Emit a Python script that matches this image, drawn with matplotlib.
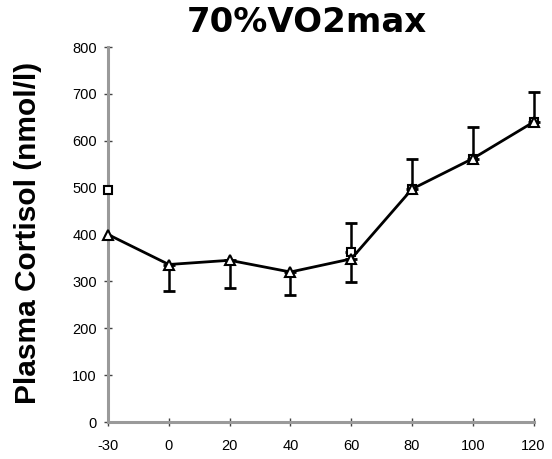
import matplotlib.pyplot as plt

# Time points (min) and plasma cortisol (nmol/l)
time_labels = ['-30', '0', '20', '40', '60', '80', '100', '120']
cortisol = [400, 336, 345, 320, 348, 497, 562, 640]

# Error bars (only drawn one way per point)
low_pos = [1, 2, 3, 4]
low_vals = [336, 345, 320, 348]
low_err = [57, 60, 48, 50]
high_pos = [4, 5, 6, 7]
high_vals = [362, 497, 562, 640]
high_err = [63, 65, 67, 63]

# Second (square) series, mostly hidden beneath the triangles
square_pos = [0, 4, 5, 6, 7]
square_vals = [495, 362, 497, 562, 640]

x = list(range(len(time_labels)))

fig = plt.figure(figsize=(5.52, 4.59), dpi=100)
ax = fig.add_axes([0.1957, 0.0806, 0.771, 0.817])

eb = dict(fmt='none', ecolor='black', elinewidth=1.8, capsize=4, capthick=2)
for errs in [ax.errorbar(low_pos, low_vals, yerr=[low_err, [0] * 4], **eb),
             ax.errorbar(high_pos, high_vals, yerr=[[0] * 4, high_err], **eb)]:
    for art in errs.lines[1] + errs.lines[2]:
        art.set_clip_on(False)
ax.plot(square_pos, square_vals, 's', mfc='white', mec='black', ms=6, mew=1.5,
        zorder=3, clip_on=False)
ax.plot(x, cortisol, '-^', color='black', mfc='white', mec='black', ms=7,
        mew=1.5, lw=2, zorder=4, clip_on=False)

ax.set_xlim(0, 7)
ax.set_ylim(0, 800)
ax.set_xticks(x)
ax.set_xticklabels(time_labels)
ax.set_yticks(range(0, 801, 100))
for s in ['top', 'right']:
    ax.spines[s].set_visible(False)
for s in ['left', 'bottom']:
    ax.spines[s].set_color('#9a9a9a')
    ax.spines[s].set_linewidth(2.2)
ax.tick_params(direction='inout', length=6, width=1, color='#444444',
               labelsize=10.5)
ax.tick_params(axis='x', pad=9)
ax.tick_params(axis='y', pad=5)
for lab in ax.get_xticklabels() + ax.get_yticklabels():
    lab.set_family('Liberation Sans')
ax.set_ylabel('Plasma Cortisol (nmol/l)', fontsize=21.5, fontweight='bold',
              family='Liberation Sans')
ax.yaxis.set_label_coords(-0.155, 0.505)
fig.text(0.556, 0.93, '70%VO2max', ha='center', va='baseline',
         fontsize=24.5, fontweight='bold', family='DejaVu Sans')

fig.savefig('out.png', dpi=100)
